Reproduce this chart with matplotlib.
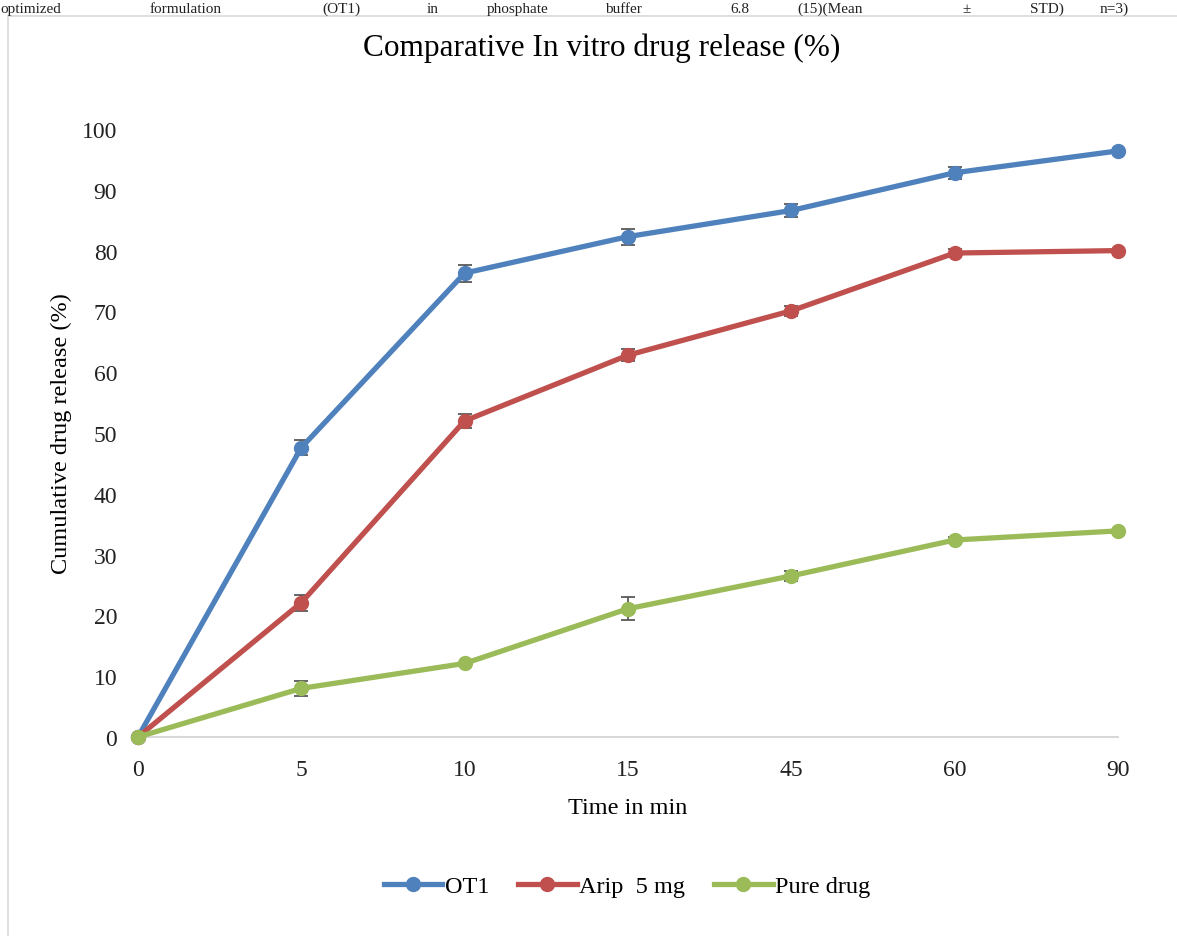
import matplotlib.pyplot as plt
from matplotlib.lines import Line2D
from matplotlib.patches import Rectangle

plt.rcParams["font.family"] = ["Liberation Serif", "DejaVu Serif"]

time_labels = ["0", "5", "10", "15", "45", "60", "90"]

ot1 = [0, 47.6, 76.3, 82.3, 86.6, 92.8, 96.4]
ot1_err = [0, 1.2, 1.4, 1.3, 1.0, 1.0, 0]

arip = [0, 22.1, 52.0, 62.8, 70.1, 79.6, 80.0]
arip_err = [0, 1.3, 1.1, 1.0, 0.8, 0.6, 0]

pure = [0, 8.0, 12.1, 21.1, 26.5, 32.4, 33.9]
pure_err = [0, 1.2, 0, 1.9, 0.8, 0.5, 0]

series = [
    ("OT1", ot1, ot1_err, "#4f81bd"),
    ("Arip  5 mg", arip, arip_err, "#c0504d"),
    ("Pure drug", pure, pure_err, "#9bbb59"),
]

caption_words = ["optimized", "formulation", "(OT1)", "in", "phosphate", "buffer",
                 "6.8", "(15)(Mean", "±", "STD)", "n=3)"]
caption_x = [0, 150, 322, 427, 487, 605, 730, 797, 962, 1030, 1100]

fig = plt.figure(figsize=(11.77, 9.37), dpi=100)
W, H = 1177, 937

# chart frame
fig.patches.append(Rectangle((8 / W, -0.01), 1.2, 1 - 17 / H + 0.01,
                             transform=fig.transFigure, fill=False,
                             edgecolor="#d9d9d9", linewidth=1.2))

# caption line from the page above
for word, x in zip(caption_words, caption_x):
    fig.text(x / W, 1 - 3 / H, word, fontsize=11, va="top", ha="left",
             color="#222222")

ax = fig.add_axes([138 / W, 1 - 738 / H, (1118 - 138) / W, (738 - 130) / H])
xs = list(range(len(time_labels)))

handles = []
for name, vals, err, col in series:
    ax.errorbar(xs, vals, yerr=err, color=col, linewidth=3.8, marker="o",
                markersize=10, ecolor="#595959", elinewidth=1.3, capsize=5,
                capthick=1.3, zorder=3, clip_on=False)
    handles.append(Line2D([], [], color=col, linewidth=3.8, marker="o",
                          markersize=10, label=name))

ax.set_xlim(0, len(time_labels) - 1)
ax.set_ylim(0, 100)
ax.set_xticks(xs)
ax.set_xticklabels(time_labels)
ax.set_yticks(range(0, 101, 10))
ax.tick_params(axis="both", length=0, labelsize=17, colors="#222222")
ax.tick_params(axis="y", pad=15)
ax.tick_params(axis="x", pad=16)
for s in ["top", "right", "left"]:
    ax.spines[s].set_visible(False)
ax.spines["bottom"].set_color("#d9d9d9")
ax.spines["bottom"].set_linewidth(1.5)

ax.set_xlabel("Time in min", fontsize=17.5, labelpad=12)
ax.set_ylabel("Cumulative drug release (%)", fontsize=17.5, labelpad=7)
fig.text(602 / W, 1 - 48 / H, "Comparative In vitro drug release (%)",
         fontsize=22.5, ha="center", va="center")

ax.legend(handles=handles, loc="center", bbox_to_anchor=(627 / W, 1 - 887 / H),
          bbox_transform=fig.transFigure, ncol=3, frameon=False, fontsize=17.5,
          handlelength=2.4, columnspacing=1.2, handletextpad=0.1)

fig.savefig("out.png", dpi=100)
